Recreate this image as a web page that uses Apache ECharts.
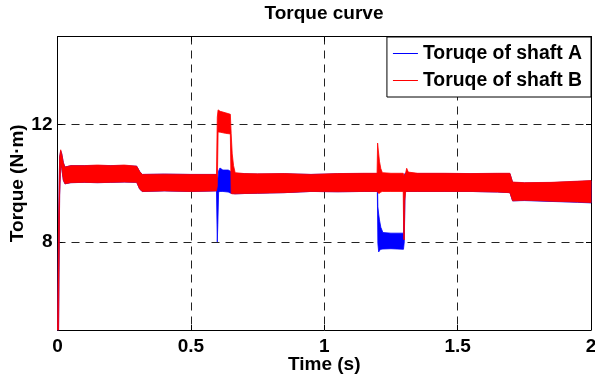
<!DOCTYPE html>
<html>
<head>
<meta charset="utf-8">
<script src="https://cdn.jsdelivr.net/npm/echarts@6/dist/echarts.min.js"></script>
<style>
  html, body { margin: 0; padding: 0; background: #fff; }
  #chart { width: 595px; height: 379px; }
</style>
</head>
<body>
<div id="chart"></div>
<script>
// Tick labels
const xTicks = [0, 0.5, 1, 1.5, 2];
const yTicks = [8, 12];

// Shaft A (blue): envelope of the fast ripple
const timeA = [0, 0.004, 0.008, 0.012, 0.016, 0.022, 0.028, 0.05, 0.1, 0.15, 0.2, 0.25, 0.297, 0.308, 0.318, 0.4, 0.5,
  0.596, 0.599, 0.601, 0.604, 0.609, 0.62, 0.64, 0.65, 0.666, 0.7, 0.75, 0.85, 0.95, 1.05, 1.15,
  1.199, 1.201, 1.204, 1.207, 1.212, 1.22, 1.25, 1.297, 1.3, 1.303, 1.35, 1.45, 1.55, 1.65,
  1.696, 1.706, 1.75, 1.85, 1.95, 2.0];
const upperA = [5, 8.6, 10.9, 11.1, 11.0, 10.7, 10.55, 10.6, 10.6, 10.6, 10.6, 10.6, 10.58, 10.4, 10.3, 10.31, 10.3,
  10.3, 10.2, 10.1, 10.42, 10.52, 10.45, 10.45, 10.4, 10.33, 10.32, 10.31, 10.32, 10.3, 10.32, 10.33,
  10.33, 9.2, 8.95, 8.75, 8.5, 8.32, 8.3, 8.3, 10.3, 10.34, 10.33, 10.33, 10.32, 10.33,
  10.33, 10.03, 10.01, 10.02, 10.06, 10.08];
const lowerA = [5, 5, 9.6, 10.7, 10.5, 10.1, 9.98, 10.02, 10.03, 10.02, 10.03, 10.04, 10.03, 9.8, 9.72, 9.74, 9.72,
  9.74, 8.0, 8.6, 9.7, 9.72, 9.72, 9.7, 9.66, 9.64, 9.65, 9.66, 9.68, 9.72, 9.71, 9.72,
  9.72, 7.95, 7.66, 7.7, 7.75, 7.76, 7.77, 7.75, 8.0, 9.72, 9.72, 9.72, 9.72, 9.7,
  9.68, 9.4, 9.41, 9.38, 9.35, 9.33];

// Shaft B (red)
const timeB = [0, 0.004, 0.008, 0.012, 0.016, 0.022, 0.028, 0.05, 0.1, 0.15, 0.2, 0.25, 0.297, 0.308, 0.318, 0.4, 0.5,
  0.596, 0.599, 0.602, 0.61, 0.63, 0.648, 0.651, 0.655, 0.66, 0.666, 0.7, 0.75, 0.85, 0.95, 1.05, 1.15,
  1.198, 1.2, 1.203, 1.207, 1.212, 1.218, 1.25, 1.296, 1.298, 1.3, 1.302, 1.305, 1.309, 1.315,
  1.35, 1.45, 1.55, 1.65, 1.696, 1.706, 1.75, 1.85, 1.95, 2.0];
const upperB = [5, 8.6, 10.9, 11.14, 11.0, 10.7, 10.55, 10.6, 10.6, 10.62, 10.6, 10.62, 10.58, 10.4, 10.3, 10.31, 10.3,
  10.3, 12.25, 12.5, 12.45, 12.4, 12.35, 11.7, 11.0, 10.6, 10.36, 10.33, 10.32, 10.33, 10.3, 10.33, 10.34,
  10.34, 11.37, 11.1, 10.75, 10.5, 10.36, 10.34, 10.34, 10.3, 10.2, 10.3, 10.34, 10.51, 10.38,
  10.34, 10.34, 10.33, 10.34, 10.34, 10.04, 10.02, 10.03, 10.07, 10.09];
const lowerB = [5, 5, 9.6, 10.7, 10.5, 10.1, 9.98, 10.02, 10.03, 10.02, 10.03, 10.04, 10.03, 9.8, 9.72, 9.74, 9.72,
  9.74, 9.9, 11.75, 11.74, 11.7, 11.68, 9.65, 9.64, 9.64, 9.64, 9.65, 9.66, 9.68, 9.72, 9.71, 9.72,
  9.72, 9.7, 9.66, 9.66, 9.7, 9.72, 9.72, 9.72, 8.1, 8.07, 9.4, 9.7, 9.72, 9.72,
  9.72, 9.72, 9.72, 9.7, 9.68, 9.4, 9.42, 9.39, 9.36, 9.34];

const FONT = "'Liberation Sans', Arial, sans-serif";
const BLUE = "#0000ff";
const RED = "#ff0000";

// Filled band between lower and upper envelope, drawn once as a polygon
function bandSeries(name, color, time, upper, lower) {
  return {
    name: name,
    type: "custom",
    data: time.map((t, i) => [t, lower[i], upper[i]]),
    encode: { x: 0, y: [1, 2] },
    itemStyle: { color: color },
    silent: true,
    renderItem: (params, api) => {
      if (params.dataIndex !== 0) return null;
      const pts = [];
      for (let i = 0; i < time.length; i++) pts.push(api.coord([time[i], upper[i]]));
      for (let i = time.length - 1; i >= 0; i--) pts.push(api.coord([time[i], lower[i]]));
      return {
        type: "polygon",
        shape: { points: pts },
        style: { fill: color, stroke: color, lineWidth: 0.8 },
      };
    },
  };
}

const chart = echarts.init(document.getElementById("chart"), null, { renderer: "canvas" });

const gridLine = { show: true, lineStyle: { color: "#222", width: 1, type: [8, 6] } };
const boxLine = { show: true, onZero: false, lineStyle: { color: "#000", width: 1 } };
const tickLabel = { fontFamily: FONT, fontWeight: "bold", fontSize: 19, color: "#000" };

chart.setOption({
  animation: false,
  backgroundColor: "#fff",
  title: {
    text: "Torque curve",
    left: 324,
    top: 4,
    textAlign: "center",
    padding: 0,
    textStyle: { fontFamily: FONT, fontWeight: "bold", fontSize: 19, color: "#000" },
  },
  legend: {
    orient: "vertical",
    right: 4,
    top: 37,
    padding: [7, 9, 7, 6],
    itemGap: 8,
    itemWidth: 25,
    itemHeight: 1,
    backgroundColor: "#fff",
    borderColor: "#000",
    borderWidth: 1,
    borderRadius: 0,
    selectedMode: false,
    textStyle: { fontFamily: FONT, fontWeight: "bold", fontSize: 19.4, color: "#000" },
    data: [
      { name: "Toruqe of shaft A", icon: "rect" },
      { name: "Toruqe of shaft B", icon: "rect" },
    ],
  },
  grid: { left: 57.5, right: 4, top: 36.5, bottom: 49, containLabel: false, outerBoundsMode: "none" },
  xAxis: [
    {
      type: "value",
      min: 0,
      max: 2,
      interval: 0.5,
      name: "Time (s)",
      nameLocation: "middle",
      nameGap: 25,
      nameMoveOverlap: false,
      nameTextStyle: tickLabel,
      axisLine: boxLine,
      axisTick: { show: true, inside: true, length: 5, customValues: xTicks, lineStyle: { color: "#000" } },
      axisLabel: Object.assign({ margin: 7, customValues: xTicks, formatter: (v) => String(v) }, tickLabel),
      splitLine: gridLine,
    },
    {
      type: "value",
      position: "top",
      min: 0,
      max: 2,
      interval: 0.5,
      axisLine: boxLine,
      axisTick: { show: true, inside: true, length: 5, customValues: xTicks, lineStyle: { color: "#000" } },
      axisLabel: { show: false },
      splitLine: { show: false },
    },
  ],
  yAxis: [
    {
      type: "value",
      min: 5,
      max: 15,
      name: "Torque (N·m)",
      nameLocation: "middle",
      nameGap: 30,
      nameMoveOverlap: false,
      nameTextStyle: tickLabel,
      axisLine: boxLine,
      axisTick: { show: true, inside: true, length: 5, customValues: yTicks, lineStyle: { color: "#000" } },
      axisLabel: Object.assign({ margin: 5, customValues: yTicks }, tickLabel),
      splitLine: gridLine,
    },
    {
      type: "value",
      position: "right",
      min: 5,
      max: 15,
      axisLine: boxLine,
      axisTick: { show: true, inside: true, length: 5, customValues: yTicks, lineStyle: { color: "#000" } },
      axisLabel: { show: false },
      splitLine: { show: false },
    },
  ],
  series: [
    bandSeries("Toruqe of shaft A", BLUE, timeA, upperA, lowerA),
    bandSeries("Toruqe of shaft B", RED, timeB, upperB, lowerB),
  ],
});
</script>
</body>
</html>
